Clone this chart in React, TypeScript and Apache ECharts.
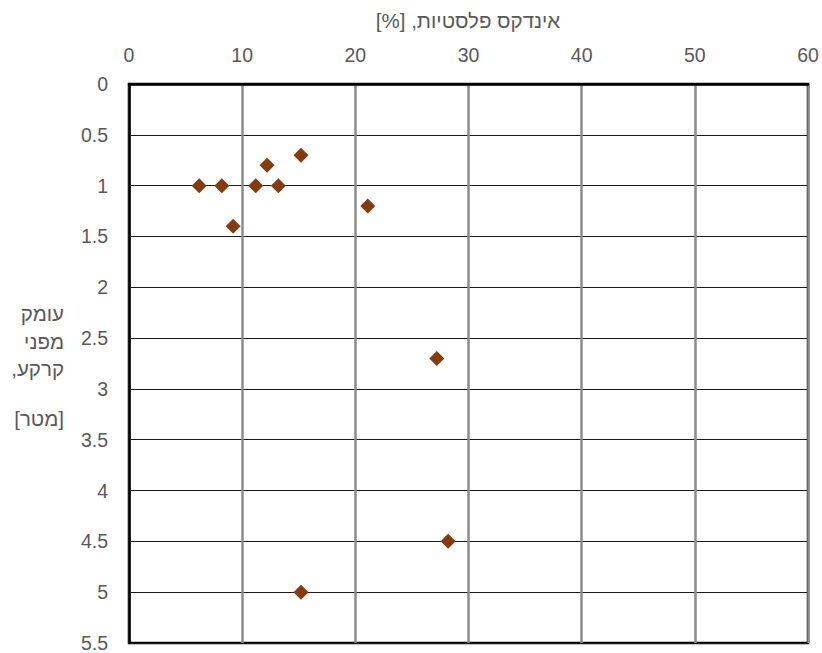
import React, { useEffect, useRef } from "react";
import * as echarts from "echarts";

const plasticityIndex = [6.2, 8.2, 9.2, 11.2, 12.2, 13.2, 15.2, 21.1, 27.2, 28.2, 15.2];
const depth = [1, 1, 1.4, 1, 0.8, 1, 0.7, 1.2, 2.7, 4.5, 5];

const xTitle = "אינדקס פלסטיות, [%]";
const yTitleLines = ["עומק", "מפני", "קרקע,", "", "[מטר]"];

const RLE = "\u202B";
const PDF = "\u202C";
const FONT = "'Liberation Sans', 'DejaVu Sans', Arial, sans-serif";

export default function App() {
  const ref = useRef<HTMLDivElement>(null);
  useEffect(() => {
    if (!ref.current) return;
    const chart = echarts.init(ref.current, null, { renderer: "svg" });
    const points = plasticityIndex.map((x, i) => [x, depth[i]]);
    const lineYs = [313, 341, 368, 392, 418];
    chart.setOption({
      animation: false,
      backgroundColor: "#fff",
      grid: {
        left: 129,
        right: 14,
        top: 84,
        bottom: 10,
        show: true,
        borderColor: "#000",
        borderWidth: 2.5,
        containLabel: false,
      },
      xAxis: {
        type: "value",
        position: "top",
        min: 0,
        max: 60,
        interval: 10,
        axisLine: { show: true, lineStyle: { color: "#000", width: 2.5 } },
        axisTick: { show: false },
        axisLabel: { color: "#595959", fontSize: 19.5, fontFamily: FONT, margin: 19 },
        splitLine: { show: true, lineStyle: { color: "#8c8c8c", width: 2.5 } },
      },
      yAxis: {
        type: "value",
        inverse: true,
        min: 0,
        max: 5.5,
        interval: 0.5,
        axisLine: { show: true, lineStyle: { color: "#000", width: 2.5 } },
        axisTick: { show: false },
        axisLabel: { color: "#595959", fontSize: 19.5, fontFamily: FONT, margin: 21 },
        splitLine: { show: true, lineStyle: { color: "#1a1a1a", width: 1.2 } },
      },
      graphic: [
        {
          type: "text",
          x: 468,
          y: 20,
          style: {
            text: RLE + xTitle + PDF,
            fill: "#595959",
            fontSize: 20.5,
            fontFamily: FONT,
            textAlign: "center",
            textVerticalAlign: "middle",
          },
        },
        ...yTitleLines.map((t, i) => ({
          type: "text",
          x: 64,
          y: lineYs[i],
          style: {
            text: t ? RLE + t + PDF : "",
            fill: "#595959",
            fontSize: 20.5,
            fontFamily: FONT,
            textAlign: "right",
            textVerticalAlign: "middle",
          },
        })),
      ],
      series: [
        {
          type: "scatter",
          data: points,
          symbol: "diamond",
          symbolSize: 15,
          itemStyle: { color: "#843C0C", opacity: 1 },
        },
      ],
    });
    return () => chart.dispose();
  }, []);
  return <div ref={ref} style={{ width: 822, height: 653, position: "absolute", left: 0, top: 0 }} />;
}
